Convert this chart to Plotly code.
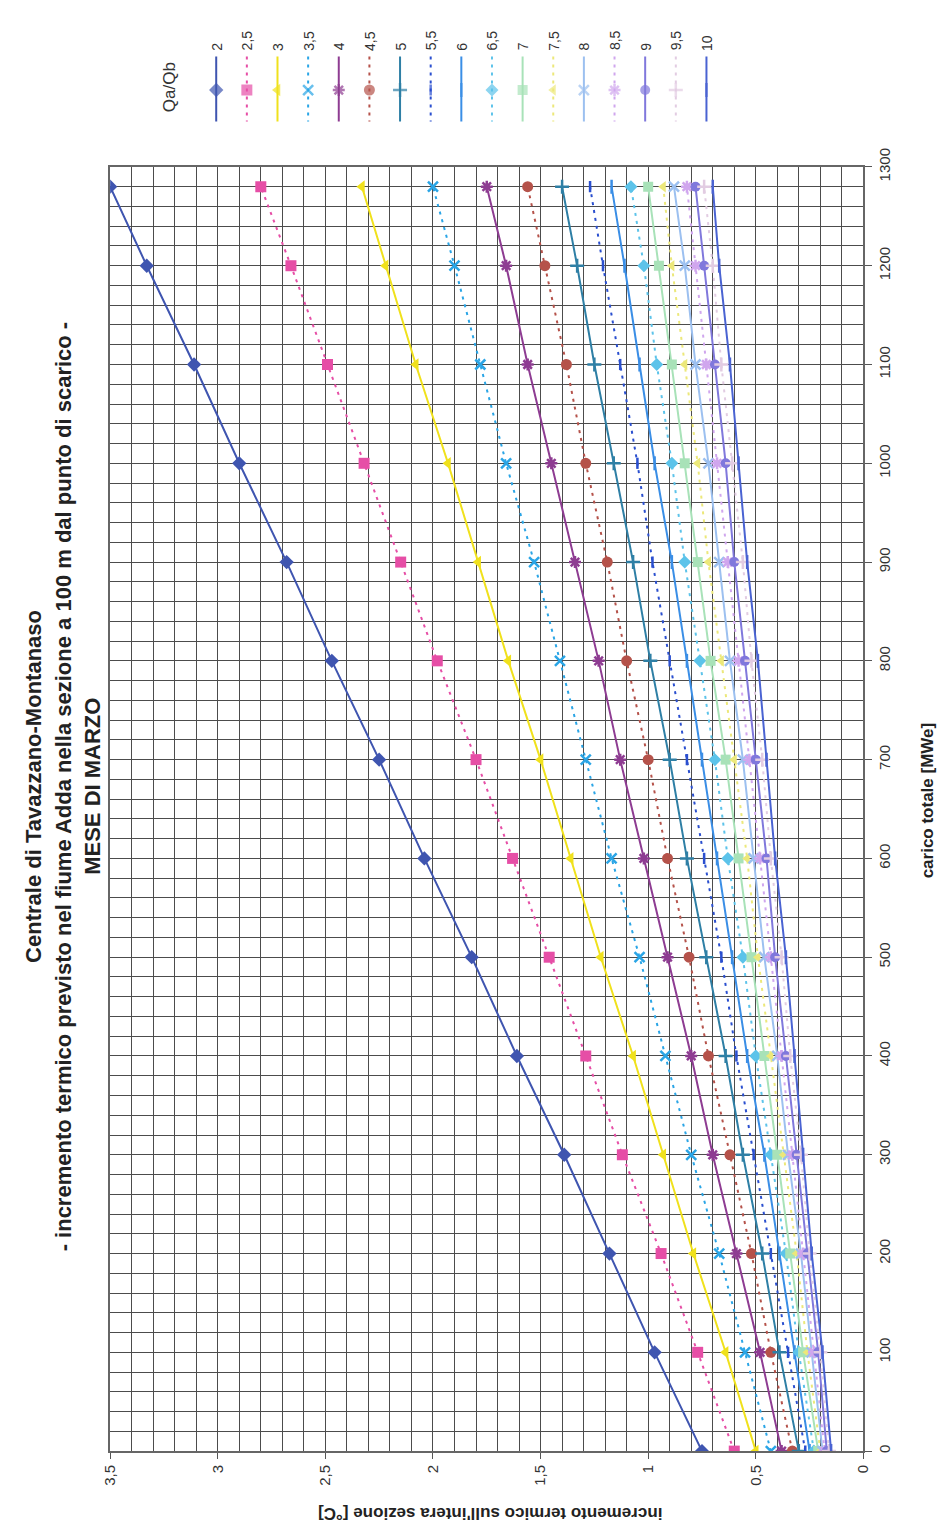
import plotly.graph_objects as go

# ---------------- data ----------------
carico = [0, 100, 200, 300, 400, 500, 600, 700, 800, 900, 1000, 1100, 1200, 1280]

qa_qb_labels = ["2", "2,5", "3", "3,5", "4", "4,5", "5", "5,5", "6", "6,5",
                "7", "7,5", "8", "8,5", "9", "9,5", "10"]

dt_2   = [0.75, 0.97, 1.18, 1.39, 1.61, 1.82, 2.04, 2.25, 2.47, 2.68, 2.90, 3.11, 3.33, 3.50]
dt_2_5 = [0.60, 0.77, 0.94, 1.12, 1.29, 1.46, 1.63, 1.80, 1.98, 2.15, 2.32, 2.49, 2.66, 2.80]
dt_3   = [0.50, 0.64, 0.79, 0.93, 1.07, 1.22, 1.36, 1.50, 1.65, 1.79, 1.93, 2.08, 2.22, 2.33]
dt_3_5 = [0.43, 0.55, 0.67, 0.80, 0.92, 1.04, 1.17, 1.29, 1.41, 1.53, 1.66, 1.78, 1.90, 2.00]
dt_4   = [0.38, 0.48, 0.59, 0.70, 0.80, 0.91, 1.02, 1.13, 1.23, 1.34, 1.45, 1.56, 1.66, 1.75]
dt_4_5 = [0.33, 0.43, 0.52, 0.62, 0.72, 0.81, 0.91, 1.00, 1.10, 1.19, 1.29, 1.38, 1.48, 1.56]
dt_5   = [0.30, 0.39, 0.47, 0.56, 0.64, 0.73, 0.82, 0.90, 0.99, 1.07, 1.16, 1.25, 1.33, 1.40]
dt_5_5 = [0.27, 0.35, 0.43, 0.51, 0.59, 0.66, 0.74, 0.82, 0.90, 0.98, 1.05, 1.13, 1.21, 1.27]
dt_6   = [0.25, 0.32, 0.39, 0.46, 0.54, 0.61, 0.68, 0.75, 0.82, 0.89, 0.97, 1.04, 1.11, 1.17]
dt_6_5 = [0.23, 0.30, 0.36, 0.43, 0.50, 0.56, 0.63, 0.69, 0.76, 0.83, 0.89, 0.96, 1.02, 1.08]
dt_7   = [0.21, 0.28, 0.34, 0.40, 0.46, 0.52, 0.58, 0.64, 0.71, 0.77, 0.83, 0.89, 0.95, 1.00]
dt_7_5 = [0.20, 0.26, 0.31, 0.37, 0.43, 0.49, 0.54, 0.60, 0.66, 0.72, 0.77, 0.83, 0.89, 0.93]
dt_8   = [0.19, 0.24, 0.29, 0.35, 0.40, 0.46, 0.51, 0.56, 0.62, 0.67, 0.72, 0.78, 0.83, 0.88]
dt_8_5 = [0.18, 0.23, 0.28, 0.33, 0.38, 0.43, 0.48, 0.53, 0.58, 0.63, 0.68, 0.73, 0.78, 0.82]
dt_9   = [0.17, 0.21, 0.26, 0.31, 0.36, 0.41, 0.45, 0.50, 0.55, 0.60, 0.64, 0.69, 0.74, 0.78]
dt_9_5 = [0.16, 0.20, 0.25, 0.29, 0.34, 0.38, 0.43, 0.47, 0.52, 0.56, 0.61, 0.66, 0.70, 0.74]
dt_10  = [0.15, 0.19, 0.24, 0.28, 0.32, 0.36, 0.41, 0.45, 0.49, 0.54, 0.58, 0.62, 0.67, 0.70]

series_values = [dt_2, dt_2_5, dt_3, dt_3_5, dt_4, dt_4_5, dt_5, dt_5_5, dt_6, dt_6_5,
                 dt_7, dt_7_5, dt_8, dt_8_5, dt_9, dt_9_5, dt_10]

x_tickvals = [0, 0.5, 1, 1.5, 2, 2.5, 3, 3.5]
x_ticktext = ["0", "0,5", "1", "1,5", "2", "2,5", "3", "3,5"]
y_tickvals = [0, 100, 200, 300, 400, 500, 600, 700, 800, 900, 1000, 1100, 1200, 1300]
y_ticktext = ["0", "100", "200", "300", "400", "500", "600", "700", "800", "900",
              "1000", "1100", "1200", "1300"]

title_lines = ["Centrale di Tavazzano-Montanaso",
               "- incremento termico previsto nel fiume Adda nella sezione a 100 m dal punto di scarico -",
               "MESE DI MARZO"]
x_title = "incremento termico sull'intera sezione [°C]"
y_title = "carico totale [MWe]"
legend_title = "Qa/Qb"

# ---------------- styles ----------------
# (color, dash, symbol, size, open_symbol)
styles = [
    ("#3f55b0", "solid", "diamond", 11, False),
    ("#e64ea6", "3px,5px", "square", 11, False),
    ("#f0e11c", "solid", "triangle-left", 11, False),
    ("#2aa5e6", "3px,5px", "x-thin-open", 10, True),
    ("#8e3c92", "solid", "asterisk-open", 10, True),
    ("#b5524a", "3px,5px", "circle", 11, False),
    ("#2e7fa5", "solid", "cross-thin-open", 10, True),
    ("#2a4fcf", "3px,5px", "line-ns-open", 8, True),
    ("#3a8ee6", "solid", "line-ns-open", 10, True),
    ("#5cc3ea", "3px,5px", "diamond", 10, False),
    ("#a8e2b8", "solid", "square", 10, False),
    ("#ece87a", "3px,5px", "triangle-left", 10, False),
    ("#9cc0f0", "solid", "x-thin-open", 10, True),
    ("#d0a6ee", "3px,5px", "asterisk-open", 10, True),
    ("#8078dc", "solid", "circle", 10, False),
    ("#e2cce2", "3px,5px", "cross-thin-open", 10, True),
    ("#4a63d2", "solid", "line-ns-open", 10, True),
]

W, H = 947, 1533
PL, PR, PT, PB = 103, 870, 150, 1452  # plot area in pixels


def px(x):
    return x / W


def py(y):
    return 1 - y / H


fig = go.Figure()

for vals, lab, (col, dash, sym, size, op) in zip(series_values, qa_qb_labels, styles):
    fig.add_trace(go.Scatter(
        x=vals, y=carico, mode="lines+markers", name=lab,
        line=dict(color=col, width=2, dash=dash),
        marker=dict(symbol=sym, size=size, color=col,
                    line=dict(color=col, width=2.5 if op else 0)),
        showlegend=False, xaxis="x", yaxis="y", hoverinfo="skip"))

# ---------------- manual rotated legend ----------------
annotations = []
leg_x0, leg_dx = 211, 31.2
for i, (lab, (col, dash, sym, size, op)) in enumerate(zip(qa_qb_labels, styles)):
    xc = leg_x0 + i * leg_dx
    fig.add_trace(go.Scatter(
        x=[xc, xc, xc], y=[38, 72, 104], mode="lines+markers",
        line=dict(color=col, width=2, dash=dash),
        marker=dict(symbol=sym, size=[0, size, 0], color=col,
                    line=dict(color=col, width=2.5 if op else 0)),
        showlegend=False, xaxis="x2", yaxis="y2", hoverinfo="skip"))
    annotations.append(dict(x=px(xc), y=py(34), xref="paper", yref="paper",
                            text=lab, textangle=-90, showarrow=False,
                            xanchor="center", yanchor="bottom",
                            font=dict(size=14, color="#333")))

annotations.append(dict(x=px(163), y=py(69), xref="paper", yref="paper",
                        text=legend_title, textangle=-90, showarrow=False,
                        xanchor="center", yanchor="middle",
                        font=dict(size=17, color="#333")))

# titles
for xc, line in zip([25, 55, 85], title_lines):
    annotations.append(dict(x=px(xc), y=py(778), xref="paper", yref="paper",
                            text="<b>" + line + "</b>", textangle=-90, showarrow=False,
                            xanchor="center", yanchor="middle",
                            font=dict(size=22, color="#222")))

annotations.append(dict(x=px(935), y=py(792), xref="paper", yref="paper",
                        text="<b>" + y_title + "</b>", textangle=-90, showarrow=False,
                        xanchor="center", yanchor="middle",
                        font=dict(size=17, color="#222")))
annotations.append(dict(x=px(490), y=py(1516), xref="paper", yref="paper",
                        text="<b>" + x_title + "</b>", textangle=180, showarrow=False,
                        xanchor="center", yanchor="middle",
                        font=dict(size=17, color="#222")))

grid_col = "#4c4c4c"
fig.update_layout(
    width=W, height=H,
    margin=dict(l=0, r=0, t=0, b=0),
    paper_bgcolor="white", plot_bgcolor="white",
    font=dict(family="Arial, Liberation Sans, sans-serif", color="#333"),
    annotations=annotations,
    xaxis=dict(
        domain=[px(PL), px(PR)], range=[3.5, 0], anchor="y",
        tickmode="array", tickvals=x_tickvals, ticktext=x_ticktext,
        tickangle=-90, ticks="outside", ticklen=6, tickcolor="#555",
        tickfont=dict(size=15, color="#333"),
        showgrid=True, gridcolor=grid_col, gridwidth=1,
        minor=dict(dtick=0.1, tick0=0, showgrid=True, gridcolor=grid_col, gridwidth=1),
        showline=True, linecolor="#666", linewidth=1.5, mirror=True,
        zeroline=False),
    yaxis=dict(
        domain=[py(PB), py(PT)], range=[0, 1300], anchor="x", side="right",
        tickmode="array", tickvals=y_tickvals, ticktext=y_ticktext,
        tickangle=-90, ticks="outside", ticklen=7, tickcolor="#555",
        tickfont=dict(size=15, color="#333"),
        showgrid=True, gridcolor=grid_col, gridwidth=1,
        minor=dict(dtick=20, tick0=0, showgrid=True, gridcolor=grid_col, gridwidth=1),
        showline=True, linecolor="#666", linewidth=1.5, mirror=True,
        zeroline=False),
    xaxis2=dict(domain=[0, 1], range=[0, W], visible=False, anchor="y2", fixedrange=True),
    yaxis2=dict(domain=[py(110), 1], range=[110, 0], visible=False, anchor="x2", fixedrange=True),
)

fig.write_html("out.html",
               config={"displayModeBar": False},
               post_script="document.body.style.margin='0';document.body.style.overflow='hidden';")
